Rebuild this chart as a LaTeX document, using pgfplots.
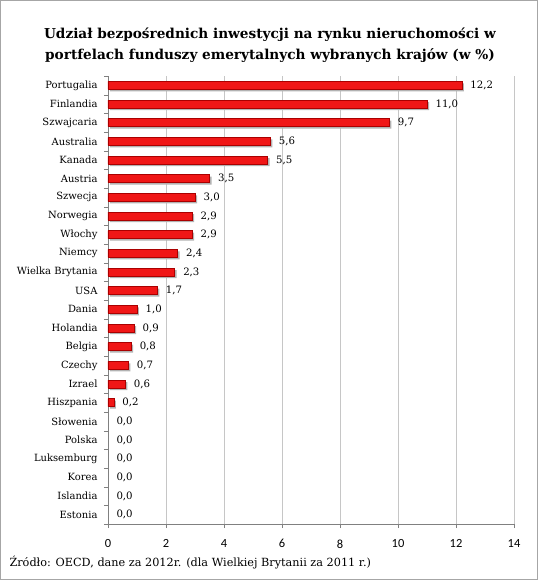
\documentclass[border=0pt]{standalone}
\usepackage{fontspec}
\setmainfont{DejaVu Serif}
\newfontfamily\tickfont{Carlito}
\usepackage{pgfplots}
\pgfplotsset{compat=1.18}

\definecolor{barred}{RGB}{240,22,22}
\definecolor{baredge}{RGB}{170,0,0}

\begin{document}
\begin{tikzpicture}
\useasboundingbox (-108bp,-56bp) rectangle (430bp,524bp);
\draw[gray!70, line width=1.2bp] (-107.4bp,-55.4bp) rectangle (429.4bp,523.4bp);
\node[font=\bfseries\fontsize{13.7}{21}\selectfont, align=center] at (162bp,479bp)
  {Udział bezpośrednich inwestycji na rynku nieruchomości w\\portfelach funduszy emerytalnych wybranych krajów (w \%)};
\begin{axis}[
  at={(0,0)}, anchor=south west,
  scale only axis, width=406bp, height=448bp,
  xmin=0, xmax=14, xtick={0,2,...,14},
  ymin=-0.5, ymax=23.5, y dir=reverse,
  % ticks sit on the category borders, labels are moved down by half a row
  ytick={-0.5,0.5,...,23.5},
  yticklabels={Portugalia,Finlandia,Szwajcaria,Australia,Kanada,Austria,Szwecja,Norwegia,Włochy,Niemcy,Wielka Brytania,USA,Dania,Holandia,Belgia,Czechy,Izrael,Hiszpania,Słowenia,Polska,Luksemburg,Korea,Islandia,Estonia,{}},
  major tick length=4bp,
  tick style={gray}, tick align=outside,
  axis x line*=bottom, axis y line*=left,
  axis line style={gray, -},
  xmajorgrids, grid style={gray!45},
  yticklabel style={font=\fontsize{10}{12}\selectfont, xshift=-3bp, yshift=-9.33bp},
  xticklabel style={font=\tickfont\fontsize{12.5}{14}\selectfont, yshift=-8bp},
  /pgf/number format/assume math mode=true,
  xbar, bar width=8bp, bar shift=0pt,
  nodes near coords,
  nodes near coords align={horizontal},
  every node near coord/.append style={font=\fontsize{10.2}{12}\selectfont, xshift=5bp,
    /pgf/number format/.cd, fixed, fixed zerofill, precision=1, use comma},
  clip=false,
]
\addplot[xbar, draw=baredge, line width=0.5bp, fill=barred,
  preaction={fill=black!30, draw=none, transform canvas={xshift=2bp, yshift=-2bp}}]
coordinates {(12.2,0) (11.0,1) (9.7,2) (5.6,3) (5.5,4) (3.5,5) (3.0,6) (2.9,7) (2.9,8)
  (2.4,9) (2.3,10) (1.7,11) (1.0,12) (0.9,13) (0.8,14) (0.7,15) (0.6,16) (0.2,17)};
\addplot[xbar, draw=none, fill=none]
coordinates {(0,18) (0,19) (0,20) (0,21) (0,22) (0,23)};
\end{axis}
\node[anchor=west, font=\fontsize{11.3}{13}\selectfont] at (-102bp,-39bp)
  {Źródło: OECD, dane za 2012r. (dla Wielkiej Brytanii za 2011 r.)};
\end{tikzpicture}
\end{document}
